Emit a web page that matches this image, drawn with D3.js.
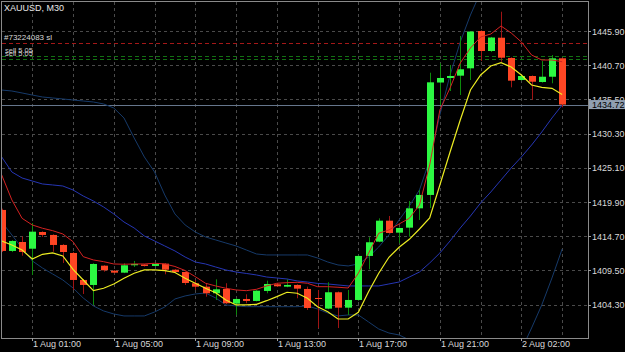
<!DOCTYPE html>
<html>
<head>
<meta charset="utf-8">
<script src="https://cdn.jsdelivr.net/npm/d3@7"></script>
<style>
body { margin: 0; background: #000; }
svg { display: block; }
text { font-family: "Liberation Sans", Arial, sans-serif; }
</style>
</head>
<body>
<div id="chart"></div>
<script>
// XAUUSD M30 candles (first bar is cut by the left edge)
const opens  = [1418.70,1412.47,1413.83,1412.81,1415.35,1414.90,1413.38,1412.16,1408.06,1407.30,1410.23,1409.47,1409.17,1410.29,
                1410.41,1410.19,1410.54,1409.62,1409.27,1407.56,1407.04,1406.04,1406.69,1404.46,1405.17,1404.87,1406.39,1407.40,
                1407.04,1407.30,1406.69,1405.32,1403.70,1406.19,1403.85,1405.02,1411.71,1413.88,1417.07,1415.25,1416.01,1418.95,
                1420.98,1438.07,1438.76,1439.11,1440.23,1445.90,1442.86,1444.88,1441.80,1438.45,1439.06,1438.15,1438.95,1441.75];
const highs  = [1418.90,1414.10,1414.64,1416.72,1415.45,1415.00,1413.50,1412.30,1408.20,1410.60,1410.30,1409.55,1410.60,1410.95,
                1410.50,1410.60,1410.60,1409.70,1409.35,1408.06,1407.56,1408.16,1407.56,1405.30,1405.88,1406.50,1407.95,1407.60,
                1408.16,1407.40,1407.04,1406.54,1407.71,1406.30,1406.54,1411.80,1414.55,1417.43,1417.78,1416.05,1420.06,1421.74,
                1439.56,1440.99,1440.73,1445.14,1445.90,1446.00,1445.00,1448.83,1441.90,1439.20,1439.15,1441.34,1442.25,1441.85];
const lows   = [1412.30,1412.30,1411.75,1408.82,1414.59,1412.36,1410.64,1406.54,1405.93,1404.26,1409.32,1409.05,1409.10,1410.03,
                1410.10,1410.10,1408.92,1409.20,1407.30,1406.54,1405.52,1405.02,1404.40,1402.74,1404.52,1404.80,1406.04,1407.00,
                1406.95,1405.28,1403.50,1400.76,1403.60,1400.76,1402.74,1404.90,1409.68,1413.80,1415.10,1413.64,1414.64,1417.18,
                1419.00,1434.65,1436.78,1436.17,1438.45,1441.34,1442.70,1441.23,1437.34,1438.35,1435.41,1438.05,1437.95,1434.30];
const closes = [1412.47,1413.99,1412.31,1415.40,1414.90,1413.38,1412.31,1408.06,1407.30,1410.49,1409.53,1409.17,1410.29,1410.49,
                1410.19,1410.49,1409.62,1409.27,1407.60,1407.04,1406.04,1406.64,1404.52,1405.17,1404.87,1406.43,1407.45,1407.10,
                1407.30,1406.74,1403.80,1405.17,1406.19,1403.85,1405.02,1411.71,1413.79,1417.07,1415.20,1415.96,1418.95,1420.98,
                1438.10,1438.76,1439.06,1440.08,1445.82,1442.86,1444.91,1441.84,1438.35,1439.06,1438.19,1438.95,1441.75,1434.72];

// indicator lines, one value per bar
const redLine    = [1424.02,1420.22,1417.43,1416.42,1415.92,1415.55,1415.05,1413.88,1411.60,1411.10,1410.84,1410.49,1410.45,1410.49,
                    1410.49,1410.60,1410.49,1410.11,1409.50,1408.56,1407.56,1407.15,1406.80,1406.54,1406.43,1406.64,1407.15,1407.56,
                    1407.65,1407.70,1407.56,1407.04,1407.04,1406.95,1406.84,1409.08,1412.12,1415.16,1415.66,1416.57,1417.43,1419.46,
                    1425.54,1433.89,1437.24,1441.04,1443.32,1444.99,1445.44,1446.66,1445.60,1444.23,1442.25,1441.49,1441.49,1441.23];
const yellowLine = [1413.99,1413.38,1412.62,1411.25,1411.96,1412.16,1411.71,1409.68,1408.06,1406.43,1406.80,1407.45,1408.32,1409.08,
                    1409.58,1409.58,1409.48,1409.20,1408.32,1407.56,1406.80,1406.13,1405.02,1404.26,1404.26,1404.36,1404.91,1405.52,
                    1406.19,1406.04,1405.28,1404.00,1403.24,1402.13,1402.13,1403.15,1406.28,1409.08,1411.51,1413.03,1414.24,1415.81,
                    1417.48,1422.50,1427.51,1432.37,1436.93,1439.21,1440.58,1441.08,1440.43,1439.21,1437.69,1437.34,1437.19,1436.25];
const bandUpper  = [1436.93,1436.78,1436.48,1436.17,1435.87,1435.72,1435.57,1435.41,1435.26,1435.11,1434.81,1434.20,1432.68,1429.64,
                    1426.75,1424.47,1420.98,1418.09,1416.42,1415.35,1414.59,1414.14,1413.68,1413.23,1412.62,1412.01,1411.86,1411.86,
                    1411.86,1411.86,1411.86,1411.40,1410.79,1410.34,1410.19,1410.49,1411.55,1413.07,1414.90,1417.18,1419.30,1421.74,
                    1426.30,1433.13,1439.21,1444.23,1448.33,1451.83,1454.41,1456.39,1457.50,1458.00,1458.00,1457.50,1457.00,1456.50];
const bandMiddle = [1426.75,1424.47,1423.56,1423.10,1422.65,1422.50,1422.34,1421.74,1420.82,1420.06,1419.15,1418.09,1416.87,1415.96,
                    1414.74,1413.99,1413.23,1412.47,1411.55,1410.79,1410.49,1410.03,1409.58,1409.27,1409.05,1408.82,1408.51,1408.36,
                    1408.21,1407.91,1407.75,1407.53,1407.45,1407.30,1407.15,1407.15,1407.15,1407.15,1407.45,1407.75,1408.51,1409.27,
                    1410.64,1412.16,1413.99,1415.96,1417.78,1419.76,1421.43,1423.26,1425.08,1426.75,1428.57,1430.55,1432.68,1434.65];
const bandLower  = [1416.87,1414.90,1412.92,1410.95,1409.88,1408.97,1408.06,1406.84,1405.32,1404.11,1403.35,1402.89,1402.59,1402.59,
                    1402.59,1403.19,1403.95,1405.17,1405.63,1405.93,1406.08,1405.32,1404.26,1404.11,1404.00,1404.00,1404.00,1404.00,
                    1404.00,1404.00,1404.11,1403.65,1403.04,1402.59,1402.74,1402.74,1401.68,1400.61,1400.00,1399.70,1398.94,1397.42,
                    1395.14,1392.86,1391.00,1389.82,1389.50,1390.10,1391.30,1393.10,1395.14,1397.42,1400.76,1404.26,1408.36,1412.77];

const priceTicks = [1404.30,1409.50,1414.70,1419.90,1425.10,1430.30,1435.50,1440.70,1445.90];
const timeLabels = ["1 Aug 01:00","1 Aug 05:00","1 Aug 09:00","1 Aug 13:00","1 Aug 17:00","1 Aug 21:00","2 Aug 02:00"];
const timeLabelBars = [3, 11, 19, 27, 35, 43, 51];
const gridBars = [3, 7, 11, 15, 19, 23, 27, 31, 35, 39, 43, 47, 51, 55];

const symbolText = "XAUUSD, M30";
const orderText = "#73224083 sl";
const slPrice = 1444.03;
const sellPrices = [1442.10, 1441.65];
const sellLabels = ["sell 5.05", "sell 5.05"];
const bidPrice = 1434.72;

const width = 625, height = 352;
const plotLeft = 2, plotRight = 588, plotTop = 2, plotBottom = 338;

const svg = d3.select("#chart").append("svg")
    .attr("width", width)
    .attr("height", height)
    .style("background", "#000");

svg.append("clipPath").attr("id", "plot")
    .append("rect").attr("x", plotLeft).attr("y", plotTop)
    .attr("width", plotRight - plotLeft).attr("height", plotBottom - plotTop);

const x = d3.scaleLinear().domain([0, opens.length - 1]).range([1.7, 1.7 + (opens.length - 1) * 10.19]);
const y = d3.scaleLinear().domain([1404.30, 1445.90]).range([304.7, 31]);

const g = svg.append("g").attr("clip-path", "url(#plot)");

// grid
g.selectAll(".vgrid").data(gridBars).enter().append("line")
    .attr("x1", d => Math.round(x(d)) + 0.5).attr("x2", d => Math.round(x(d)) + 0.5)
    .attr("y1", plotTop).attr("y2", plotBottom)
    .attr("stroke", "#4a4a4a").attr("stroke-dasharray", "3,3");
g.selectAll(".hgrid").data(priceTicks).enter().append("line")
    .attr("x1", plotLeft).attr("x2", plotRight)
    .attr("y1", d => Math.round(y(d)) + 0.5).attr("y2", d => Math.round(y(d)) + 0.5)
    .attr("stroke", "#4a4a4a").attr("stroke-dasharray", "3,3");

// order levels
g.append("line").attr("x1", plotLeft).attr("x2", plotRight)
    .attr("y1", Math.round(y(slPrice)) + 0.5).attr("y2", Math.round(y(slPrice)) + 0.5)
    .attr("stroke", "#a41818").attr("stroke-dasharray", "4,3");
g.selectAll(".sell").data(sellPrices).enter().append("line")
    .attr("x1", plotLeft).attr("x2", plotRight)
    .attr("y1", d => Math.round(y(d)) + 0.5).attr("y2", d => Math.round(y(d)) + 0.5)
    .attr("stroke", "#137013").attr("stroke-dasharray", "4,3");

// bid line
g.append("line").attr("x1", plotLeft).attr("x2", plotRight)
    .attr("y1", Math.round(y(bidPrice)) + 0.5).attr("y2", Math.round(y(bidPrice)) + 0.5)
    .attr("stroke", "#66768c");

// indicator lines
function drawLine(values, color, w) {
    let line = d3.line().x((d, i) => x(i)).y(d => y(d));
    g.append("path").datum(values)
        .attr("d", line)
        .attr("fill", "none")
        .attr("stroke", color)
        .attr("stroke-width", w);
}
drawLine(bandUpper, "#163a6a", 1);
drawLine(bandLower, "#163a6a", 1);
drawLine(bandMiddle, "#2636b4", 1);

// candles
const bars = opens.map((o, i) => ({ i: i, o: o, h: highs[i], l: lows[i], c: closes[i] }));
const candle = g.selectAll(".candle").data(bars).enter().append("g");
candle.append("line")
    .attr("x1", d => Math.round(x(d.i)) + 0.5).attr("x2", d => Math.round(x(d.i)) + 0.5)
    .attr("y1", d => y(d.h)).attr("y2", d => y(d.l))
    .attr("stroke", d => d.c >= d.o ? "#0c8a0c" : "#a01414");
candle.append("rect")
    .attr("x", d => Math.round(x(d.i)) - 3)
    .attr("width", 7)
    .attr("y", d => y(Math.max(d.o, d.c)))
    .attr("height", d => Math.max(1, y(Math.min(d.o, d.c)) - y(Math.max(d.o, d.c))))
    .attr("fill", d => d.c >= d.o ? "#2cf842" : "#ff4624");

drawLine(redLine, "#d42222", 1);
drawLine(yellowLine, "#ecec22", 1.2);

// frame
svg.append("rect").attr("x", plotLeft - 0.5).attr("y", plotTop - 0.5)
    .attr("width", plotRight - plotLeft + 1).attr("height", plotBottom - plotTop + 1)
    .attr("fill", "none").attr("stroke", "#8a8a8a");

// price axis
const yAxis = svg.append("g");
yAxis.selectAll("line").data(priceTicks).enter().append("line")
    .attr("x1", plotRight).attr("x2", plotRight + 3)
    .attr("y1", d => Math.round(y(d)) + 0.5).attr("y2", d => Math.round(y(d)) + 0.5)
    .attr("stroke", "#a0a0a0");
yAxis.selectAll("text").data(priceTicks).enter().append("text")
    .attr("x", plotRight + 4).attr("y", d => y(d) + 3.5)
    .attr("fill", "#d8d8d8").attr("font-size", 9)
    .text(d => d3.format(".2f")(d));

// bid label
svg.append("rect").attr("x", plotRight + 1).attr("y", y(bidPrice) - 4.5)
    .attr("width", width - plotRight - 1).attr("height", 9)
    .attr("fill", "#909fb2");
svg.append("text").attr("x", plotRight + 4).attr("y", y(bidPrice) + 3.5)
    .attr("fill", "#000").attr("font-size", 9)
    .text(d3.format(".2f")(bidPrice));

// time axis
const xAxis = svg.append("g");
xAxis.selectAll("line").data(timeLabelBars).enter().append("line")
    .attr("x1", d => Math.round(x(d)) + 0.5).attr("x2", d => Math.round(x(d)) + 0.5)
    .attr("y1", plotBottom).attr("y2", plotBottom + 3)
    .attr("stroke", "#a0a0a0");
xAxis.selectAll("text").data(timeLabelBars).enter().append("text")
    .attr("x", d => Math.round(x(d)) + 1).attr("y", 347)
    .attr("fill", "#d8d8d8").attr("font-size", 9)
    .text((d, i) => timeLabels[i]);

// header texts
svg.append("text").attr("x", 4).attr("y", 11)
    .attr("fill", "#e8e8e8").attr("font-size", 9).text(symbolText);
svg.append("text").attr("x", 4).attr("y", 39.5)
    .attr("fill", "#d8d8d8").attr("font-size", 8).text(orderText);
svg.selectAll(".selltxt").data(sellLabels).enter().append("text")
    .attr("x", 5).attr("y", (d, i) => 52.5 + i * 3.5)
    .attr("fill", "#c8c8c8").attr("font-size", 7.5).text(d => d);
</script>
</body>
</html>
